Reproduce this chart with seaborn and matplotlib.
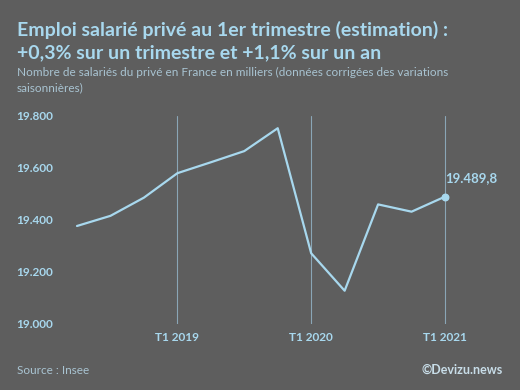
import numpy as np
import pandas as pd
import matplotlib
matplotlib.use("Agg")
import matplotlib.pyplot as plt
import seaborn as sns

# Emploi salarié privé, milliers (T2 2018 -> T1 2021)
quarters = ['T2 2018', 'T3 2018', 'T4 2018', 'T1 2019', 'T2 2019', 'T3 2019',
            'T4 2019', 'T1 2020', 'T2 2020', 'T3 2020', 'T4 2020', 'T1 2021']
emploi = [19377, 19416, 19486, 19580, 19622, 19665,
          19753, 19272, 19128, 19460, 19432, 19489.8]
y_ticks = [19000, 19200, 19400, 19600, 19800]
y_tick_labels = ['19.000', '19.200', '19.400', '19.600', '19.800']
year_marks = ['T1 2019', 'T1 2020', 'T1 2021']
last_label = '19.489,8'

BG = '#5e5e5e'
BLUE = '#a8d8ee'
VLINE = '#8aa6b6'
SUB = '#a9c4d2'

sns.set_theme(style='white')
plt.rcParams['font.family'] = ['Lato', 'DejaVu Sans']

df = pd.DataFrame({'quarter': quarters, 'emploi': emploi})
df['pos'] = np.arange(len(df))

W, H = 520, 390
fig = plt.figure(figsize=(W / 100, H / 100), dpi=100, facecolor=BG)
ax = fig.add_axes([60 / W, 1 - 324 / H, 420 / W, 208 / H])
ax.set_facecolor(BG)

# vertical markers at each T1
mark_pos = df.loc[df['quarter'].isin(year_marks), 'pos'].tolist()
for p in mark_pos:
    ax.axvline(p, color=VLINE, lw=0.8, zorder=1)

sns.lineplot(data=df, x='pos', y='emploi', color=BLUE, lw=1.6, ax=ax, zorder=3)
last = df.iloc[-1]
ax.scatter([last['pos']], [last['emploi']], color=BLUE, s=22, zorder=4)
ax.annotate(last_label, (last['pos'], last['emploi']), xytext=(0, 9),
            textcoords='offset points', color=BLUE, fontsize=9.5,
            fontweight='bold', ha='left', va='bottom')

ax.set_xlim(-17 / 33.45, 11 + 35 / 33.45)
ax.set_ylim(19000, 19800)
ax.set_yticks(y_ticks)
ax.set_yticklabels(y_tick_labels)
ax.set_xticks(mark_pos)
ax.set_xticklabels(year_marks)
ax.tick_params(axis='y', length=0, pad=5, labelcolor=BLUE, labelsize=8.5)
ax.tick_params(axis='x', length=0, pad=6, labelcolor=BLUE, labelsize=8.5)
for lab in ax.get_xticklabels() + ax.get_yticklabels():
    lab.set_fontweight('bold')
ax.set_xlabel('')
ax.set_ylabel('')
for s in ax.spines.values():
    s.set_visible(False)

fig.text(17 / W, 1 - 36 / H, 'Emploi salarié privé au 1er trimestre (estimation) :',
         color=BLUE, fontsize=14, fontweight='bold', ha='left', va='baseline')
fig.text(17 / W, 1 - 58 / H, '+0,3% sur un trimestre et +1,1% sur un an',
         color=BLUE, fontsize=14, fontweight='bold', ha='left', va='baseline')
fig.text(17 / W, 1 - 76 / H,
         'Nombre de salariés du privé en France en milliers (données corrigées des variations',
         color=SUB, fontsize=8.5, ha='left', va='baseline')
fig.text(17 / W, 1 - 91 / H, 'saisonnières)',
         color=SUB, fontsize=8.5, ha='left', va='baseline')
fig.text(17 / W, 1 - 374 / H, 'Source : Insee', color=SUB, fontsize=8.5,
         ha='left', va='baseline')
fig.text(503 / W, 1 - 374 / H, '©Devizu.news', color='#c8dde8', fontsize=9,
         fontweight='bold', ha='right', va='baseline')

fig.savefig('out.png', dpi=100, facecolor=BG)
